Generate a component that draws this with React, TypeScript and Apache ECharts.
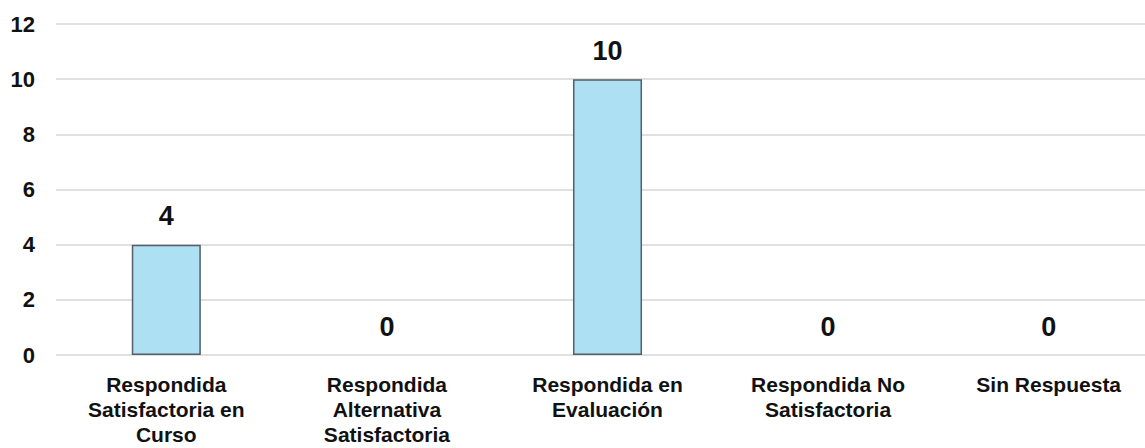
import React, { useEffect, useRef } from "react";
import * as echarts from "echarts";

const categories = [
  "Respondida\nSatisfactoria en\nCurso",
  "Respondida\nAlternativa\nSatisfactoria",
  "Respondida en\nEvaluación",
  "Respondida No\nSatisfactoria",
  "Sin Respuesta",
];
const counts = [4, 0, 10, 0, 0];
const yTicks = { min: 0, max: 12, interval: 2 };

const FONT = "Liberation Sans, Arial, sans-serif";

export default function App() {
  const ref = useRef<HTMLDivElement>(null);

  useEffect(() => {
    if (!ref.current) return;
    const chart = echarts.init(ref.current, undefined, { renderer: "svg" });
    chart.setOption({
      animation: false,
      grid: { left: 56, right: -14, top: 24, bottom: 93, outerBoundsMode: "none" },
      xAxis: {
        type: "category",
        data: categories,
        axisLine: { show: false },
        axisTick: { show: false },
        axisLabel: {
          interval: 0,
          margin: 17,
          color: "#111",
          fontFamily: FONT,
          fontWeight: "bold",
          fontSize: 21,
          lineHeight: 25,
        },
      },
      yAxis: {
        type: "value",
        min: yTicks.min,
        max: yTicks.max,
        interval: yTicks.interval,
        axisLine: { show: false },
        axisTick: { show: false },
        axisLabel: {
          margin: 21,
          color: "#111",
          fontFamily: FONT,
          fontWeight: "bold",
          fontSize: 22,
        },
        splitLine: { lineStyle: { color: "#e0e0e0", width: 2 } },
      },
      series: [
        {
          type: "bar",
          // zero-height bars get no outline, so only the gridline shows at 0
          data: counts.map((v) => ({
            value: v,
            itemStyle: { borderWidth: v === 0 ? 0 : 1.5 },
          })),
          barWidth: "31.3%",
          itemStyle: { color: "#aee0f3", borderColor: "#555e66", borderWidth: 1.5 },
          label: {
            show: true,
            position: "top",
            distance: 15,
            color: "#111",
            fontFamily: FONT,
            fontWeight: "bold",
            fontSize: 27,
          },
        },
      ],
    });
    return () => chart.dispose();
  }, []);

  return (
    <div
      ref={ref}
      style={{ position: "fixed", left: 0, top: 0, width: 1145, height: 448, background: "#fff" }}
    />
  );
}
